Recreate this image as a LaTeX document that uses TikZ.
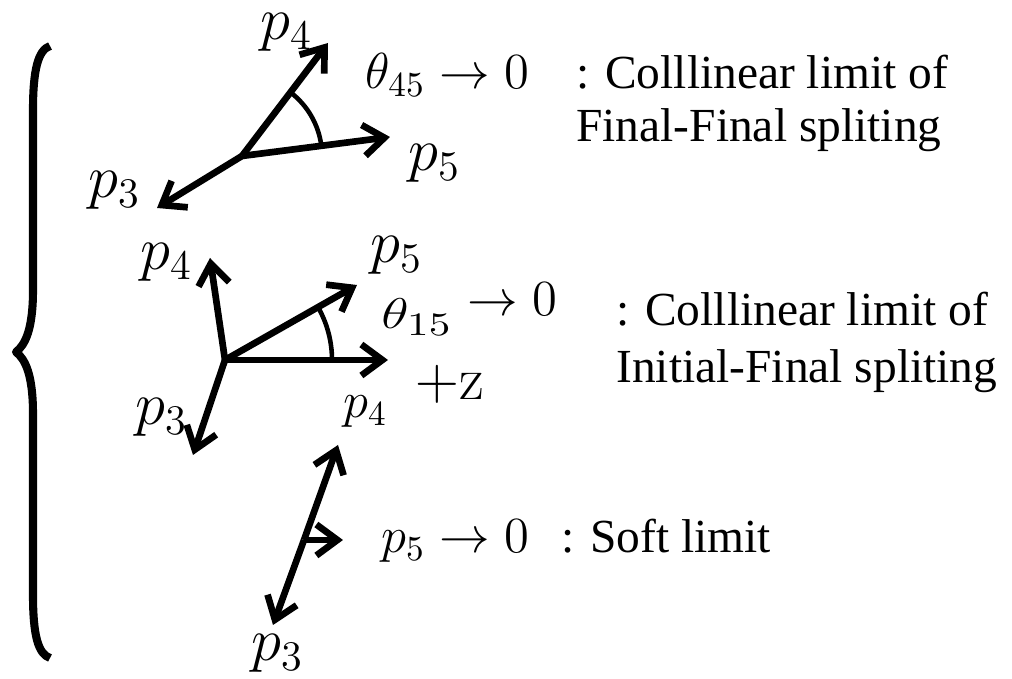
\documentclass[tikz,border=0pt]{standalone}
\usepackage[no-math]{fontspec}
\setmainfont{Liberation Serif}
\usetikzlibrary{arrows.meta}

\begin{document}
\begin{tikzpicture}[line width=1.9pt,
  vec/.style={-{Straight Barb[length=2.1mm,width=3.1mm]}},
  ang/.style={line width=1.3pt},
  plab/.style={anchor=base west, inner sep=0pt, font=\fontsize{17.5}{20}\selectfont},
  mlab/.style={anchor=base west, inner sep=0pt, font=\fontsize{14.5}{17}\selectfont},
  tlab/.style={anchor=base west, inner sep=0pt, font=\fontsize{13.5}{16}\selectfont}]
  \useasboundingbox (0,0) rectangle (10.12,-6.79);
  % brace
  \draw[line width=2.3pt, line join=round] (0.50,-0.46) .. controls (0.38,-0.50) and (0.33,-0.70) .. (0.33,-1.10)
     -- (0.33,-2.90) .. controls (0.33,-3.30) and (0.25,-3.45) .. (0.16,-3.52)
     .. controls (0.25,-3.59) and (0.33,-3.74) .. (0.33,-4.14)
     -- (0.33,-5.95) .. controls (0.33,-6.35) and (0.38,-6.54) .. (0.50,-6.58);

  % final-final
  \coordinate (o1) at (2.42,-1.56);
  \coordinate (a4) at (3.28,-0.43);
  \coordinate (a5) at (3.90,-1.37);
  \coordinate (a3) at (1.57,-2.08);
  \draw[vec] (o1) -- (a4);
  \draw[vec] (o1) -- (a5);
  \draw[vec] (o1) -- (a3);
  \draw[ang] (o1) ++(7.3:0.8) arc[start angle=7.3, end angle=52.7, radius=0.8];
  \node[plab] (p4a) at (2.57,-0.40) {$p_4$};
  \node[plab] (p5a) at (4.05,-1.71) {$p_5$};
  \node[plab] (p3a) at (0.85,-1.98) {$p_3$};
  \node[mlab] (th45) at (3.62,-0.89) {$\theta_{45}\rightarrow 0$};
  \node[tlab] (ff1) at (5.73,-0.89) {: Colllinear limit of};
  \node[tlab] (ff2) at (5.73,-1.42) {Final-Final spliting};

  % initial-final
  \coordinate (o2) at (2.25,-3.60);
  \coordinate (b4) at (2.10,-2.58);
  \coordinate (b5) at (3.57,-2.85);
  \coordinate (bz) at (3.88,-3.60);
  \coordinate (b3) at (1.93,-4.55);
  \draw[vec] (o2) -- (b4);
  \draw[vec] (o2) -- (b5);
  \draw[vec] (o2) -- (bz);
  \draw[vec] (o2) -- (b3);
  \draw[ang] (o2) ++(0:1.07) arc[start angle=0, end angle=29.6, radius=1.07];
  \node[plab] (p4b) at (1.37,-2.70) {$p_4$};
  \node[plab] (p5b) at (3.67,-2.63) {$p_5$};
  \node[plab] (p3b) at (1.32,-4.25) {$p_3$};
  \node[anchor=base west, inner sep=0pt, font=\fontsize{15}{17}\selectfont] (th15) at (3.78,-3.29)
     {\scalebox{1.12}[0.85]{$\theta_{15}$}};
  \node[mlab] (to15) at (4.64,-3.16) {$\rightarrow 0$};
  \node[anchor=base west, inner sep=0pt, font=\fontsize{18}{20}\selectfont] (zax) at (4.12,-4.00) {$+\mathrm{z}$};
  \node[tlab] (if1) at (6.13,-3.26) {: Colllinear limit of};
  \node[tlab] (if2) at (6.13,-3.83) {Initial-Final spliting};

  % soft
  \coordinate (o3) at (3.04,-5.40);
  \coordinate (c4) at (3.38,-4.45);
  \coordinate (c5) at (3.43,-5.40);
  \coordinate (c3) at (2.73,-6.25);
  \draw[vec] (o3) -- (c4);
  \draw[vec] (o3) -- (c5);
  \draw[vec] (o3) -- (c3);
  \node[anchor=base west, inner sep=0pt, font=\fontsize{14}{16}\selectfont] (p4c) at (3.40,-4.18) {$p_4$};
  \node[plab] (p3c) at (2.48,-6.61) {$p_3$};
  \node[mlab] (p5c) at (3.78,-5.53) {$p_5\rightarrow 0$};
  \node[tlab] (soft) at (5.58,-5.53) {: Soft limit};
\end{tikzpicture}
\end{document}
